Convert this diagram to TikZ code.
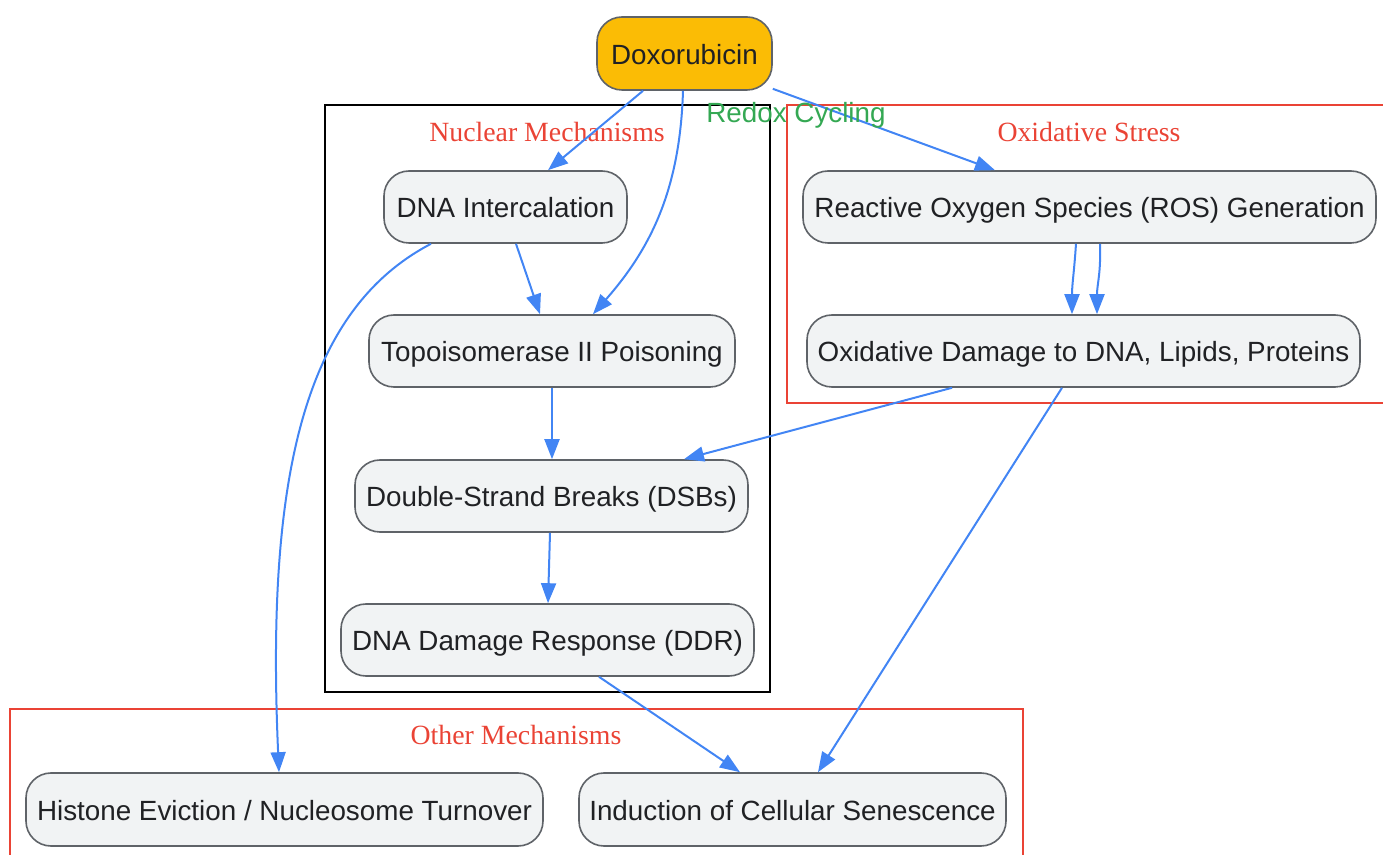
\documentclass[tikz,border=0pt]{standalone}
\usepackage{fontspec}
\setmainfont{Liberation Serif}
\newfontfamily\arialf{Liberation Sans}
\usetikzlibrary{arrows.meta}
\definecolor{gold}{HTML}{FBBC05}
\definecolor{nfill}{HTML}{F1F3F4}
\definecolor{nborder}{HTML}{5F6368}
\definecolor{edgeblue}{HTML}{4285F4}
\definecolor{gred}{HTML}{EA4335}
\definecolor{ggreen}{HTML}{34A853}
\definecolor{ntext}{HTML}{202124}
\tikzset{
  box/.style={draw=nborder, line width=0.8pt, fill=nfill, rounded corners=12.5pt,
    inner sep=0pt, minimum height=36pt, text=ntext, align=center,
    text height=11pt, text depth=0pt,
    font=\arialf\fontsize{13.9}{16}\selectfont},
  startbox/.style={box, fill=gold},
  cluster/.style={line width=0.8pt},
  clabel/.style={text=gred, font=\fontsize{13.9}{16}\selectfont, inner sep=0pt},
  conn/.style={draw=edgeblue, line width=1pt, -{Triangle[length=10pt,width=7.5pt]}},
}
\begin{document}
\begin{tikzpicture}[x=0.5pt,y=-0.5pt]
\useasboundingbox (0,0) rectangle (1383,855);
\clip (0,0) rectangle (1383,855);
% clusters
\draw[cluster, draw=black] (325,105) rectangle (770,692);
\node[clabel] (lnuc) at (547,132) {Nuclear Mechanisms};
\draw[cluster, draw=gred] (787,105) rectangle (1400,403);
\node[clabel] (lox) at (1089,132) {Oxidative Stress};
\draw[cluster, draw=gred] (10,709) rectangle (1023,870);
\node[clabel] (loth) at (516,735) {Other Mechanisms};
% nodes
\node[startbox, minimum width=87.5pt, minimum height=36.5pt] (dox) at (684.5,53.5) {Doxorubicin};
\node[box, minimum width=121.5pt] (dna) at (505.5,207) {DNA Intercalation};
\node[box, minimum width=183pt] (topo) at (552,351) {Topoisomerase II Poisoning};
\node[box, minimum width=196.5pt] (dsb) at (551.5,496) {Double-Strand Breaks (DSBs)};
\node[box, minimum width=206.5pt] (ddr) at (547.5,640) {DNA Damage Response (DDR)};
\node[box, minimum width=286.5pt] (ros) at (1089.5,207) {Reactive Oxygen Species (ROS) Generation};
\node[box, minimum width=276.5pt] (oxd) at (1083.5,351) {Oxidative Damage to DNA, Lipids, Proteins};
\node[box, minimum width=258.5pt, minimum height=36.5pt] (his) at (284.5,809.5) {Histone Eviction / Nucleosome Turnover};
\node[box, minimum width=213.5pt, minimum height=36.5pt] (sen) at (792.5,809.5) {Induction of Cellular Senescence};
% edges
\draw[conn] ([xshift=-20.75pt]dox.south) -- ([xshift=21.25pt]dna.north);
\draw[conn] ([xshift=-0.75pt]dox.south) .. controls +(-3,100) and +(57,-65) .. ([xshift=20.5pt]topo.north);
\draw[conn] ([yshift=1pt]dox.south east) -- ([xshift=-47.25pt]ros.north);
\node[text=ggreen, font=\arialf\fontsize{13.9}{16}\selectfont, inner sep=0pt] (redox) at (796,115) {Redox Cycling};
\draw[conn] ([xshift=5.25pt]dna.south) -- ([xshift=-6pt]topo.north);
\draw[conn] ([xshift=-37.25pt]dna.south) .. controls +(-128,67) and +(-13,-293) .. ([xshift=-2.75pt]his.north);
\draw[conn] (topo.south) -- ([xshift=0.25pt]dsb.north);
\draw[conn] ([xshift=-0.75pt]dsb.south) -- ([xshift=0.25pt]ddr.north);
\draw[conn] ([xshift=-6.75pt]ros.south) .. controls +(-2,30) and +(0,-30) .. ([xshift=-5.75pt]oxd.north);
\draw[conn] ([xshift=5.25pt]ros.south) .. controls +(1,30) and +(0,-30) .. ([xshift=6.75pt]oxd.north);
\draw[conn] ([xshift=-65.75pt]oxd.south) -- ([xshift=66.25pt]dsb.north);
\draw[conn] ([xshift=-10.75pt]oxd.south) -- ([xshift=12.75pt]sen.north);
\draw[conn] ([xshift=25.75pt]ddr.south) -- ([xshift=-26.25pt]sen.north);
\end{tikzpicture}
\end{document}
